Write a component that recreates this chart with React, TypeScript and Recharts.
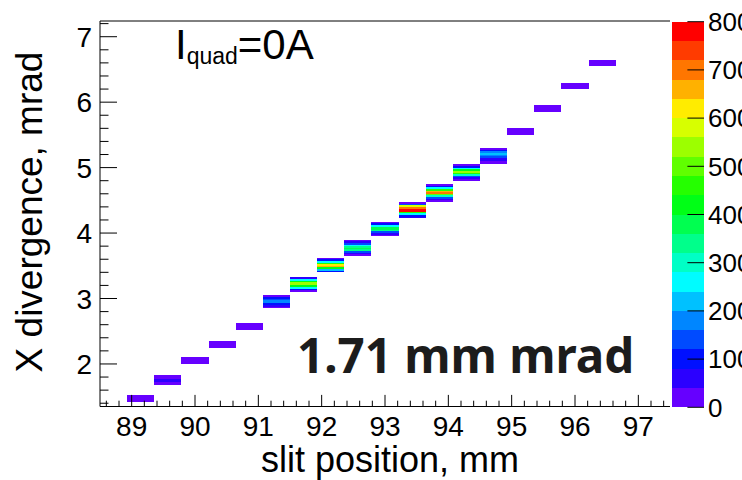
import {
  ComposedChart,
  BarChart,
  Bar,
  XAxis,
  YAxis,
  ReferenceArea,
  ReferenceLine,
} from "recharts";

// slit positions: centres of the 18 filled x bins (bin width 3/7 mm)
const slitPos = [
  89.143, 89.571, 90.0, 90.429, 90.857, 91.286, 91.714, 92.143, 92.571,
  93.0, 93.429, 93.857, 94.286, 94.714, 95.143, 95.571, 96.0, 96.429,
];
const slitBin = 0.4286;

// lower edge of the first filled divergence bin in each column (mrad)
const divLow = [
  1.425, 1.675, 2.0, 2.25, 2.525, 2.85, 3.1, 3.4, 3.65, 3.95, 4.225, 4.475,
  4.8, 5.05, 5.5, 5.85, 6.2, 6.55,
];
const divBin = 0.025;

// counts per divergence bin, bottom to top
const counts: number[][] = [
  [15, 25, 25, 15],
  [20, 35, 60, 55, 35, 20],
  [15, 30, 30, 15],
  [15, 30, 30, 15],
  [15, 30, 30, 15],
  [30, 70, 110, 180, 190, 120, 90, 35],
  [30, 110, 260, 430, 540, 530, 410, 240, 70],
  [80, 200, 430, 660, 610, 440, 260, 110, 30],
  [25, 40, 130, 330, 380, 350, 260, 120, 70, 30],
  [30, 50, 150, 350, 380, 360, 250, 80, 35],
  [40, 110, 270, 440, 770, 790, 690, 590, 150, 35],
  [25, 40, 120, 280, 480, 690, 640, 440, 250, 80, 35],
  [25, 50, 130, 280, 440, 540, 430, 270, 110, 35],
  [20, 30, 40, 70, 120, 190, 200, 180, 100, 30],
  [15, 30, 30, 15],
  [15, 30, 30, 15],
  [15, 30, 30, 15],
  [15, 30, 30, 15],
];

const xMajor = [89, 90, 91, 92, 93, 94, 95, 96, 97];
const yMajor = [2, 3, 4, 5, 6, 7];
const zTicks = [0, 100, 200, 300, 400, 500, 600, 700, 800];
const zStep = 40;

// colour contours, 0 -> 800 in steps of 40
const palette = [
  "#6600ff", "#2b00ff", "#0010ff", "#004bff", "#0086ff",
  "#00c1ff", "#00fcff", "#00ffc6", "#00ff8b", "#00ff50",
  "#00ff16", "#25ff00", "#60ff00", "#9cff00", "#d7ff00",
  "#ffec00", "#ffb100", "#ff7600", "#ff3b00", "#ff0000",
];

const X_DOMAIN: [number, number] = [88.5, 97.5];
const Y_DOMAIN: [number, number] = [1.35, 7.24];
const FONT = "'Liberation Sans', Arial, Helvetica, sans-serif";

const minorTicks = (lo: number, hi: number) => {
  const out: number[] = [];
  for (let v = Math.ceil(lo * 5) / 5; v <= hi + 1e-9; v += 0.2) {
    out.push(Math.round(v * 10) / 10);
  }
  return out;
};
const xTicks = minorTicks(X_DOMAIN[0], X_DOMAIN[1]);
const yTicks = minorTicks(Y_DOMAIN[0], Y_DOMAIN[1]);

const isMajor = (v: number, majors: number[]) =>
  majors.some((m) => Math.abs(m - v) < 1e-6);

const colourFor = (c: number) =>
  palette[Math.min(palette.length - 1, Math.floor(c / zStep))];

function XTick({ x, y, payload }: any) {
  const major = isMajor(payload.value, xMajor);
  return (
    <g>
      <line x1={x} x2={x} y1={y} y2={y - (major ? 11.6 : 5.8)} stroke="#000" />
      {major && (
        <text x={x} y={y + 29} textAnchor="middle" fontSize={28} fill="#000" fontFamily={FONT}>
          {Math.round(payload.value)}
        </text>
      )}
    </g>
  );
}

function YTick({ x, y, payload }: any) {
  const major = isMajor(payload.value, yMajor);
  return (
    <g>
      <line x1={x} x2={x + (major ? 17 : 8.5)} y1={y} y2={y} stroke="#000" />
      {major && (
        <text x={x - 8} y={y} dy="0.36em" textAnchor="end" fontSize={28} fill="#000" fontFamily={FONT}>
          {Math.round(payload.value)}
        </text>
      )}
    </g>
  );
}

function ZTick({ x, y, payload }: any) {
  return (
    <g>
      <line x1={x - 16.6} x2={x} y1={y} y2={y} stroke="#000" />
      <text x={x + 4} y={y} dy="0.36em" textAnchor="start" fontSize={26} fill="#000" fontFamily={FONT}>
        {payload.value}
      </text>
    </g>
  );
}

const cellShape = (p: any) => (
  <rect x={p.x} y={p.y} width={p.width} height={p.height} fill={p.fill} shapeRendering="crispEdges" />
);

const paletteRow = [
  Object.fromEntries([["name", "z"], ...palette.map((_, i) => [`b${i}`, zStep])]),
];

export default function App() {
  const cells = counts.flatMap((col, i) =>
    col.map((c, j) => {
      const y1 = divLow[i] + j * divBin;
      return (
        <ReferenceArea
          key={`${i}-${j}`}
          x1={slitPos[i] - slitBin / 2}
          x2={slitPos[i] + slitBin / 2}
          y1={y1}
          y2={y1 + divBin}
          fill={colourFor(c)}
          fillOpacity={1}
          stroke="none"
          shape={cellShape}
        />
      );
    })
  );

  return (
    <div
      style={{
        position: "absolute",
        left: 0,
        top: 0,
        width: 742,
        height: 480,
        overflow: "hidden",
        background: "#fff",
        fontFamily: FONT,
      }}
    >
      <ComposedChart
        width={742}
        height={480}
        margin={{ top: 21, right: 72, bottom: 0, left: 0 }}
      >
        <XAxis
          type="number"
          dataKey="x"
          domain={X_DOMAIN}
          ticks={xTicks}
          interval={0}
          tickSize={0}
          tickMargin={0}
          tickLine={false}
          tick={<XTick />}
          axisLine={{ stroke: "#000" }}
          height={73.5}
          allowDataOverflow
        />
        <YAxis
          type="number"
          domain={Y_DOMAIN}
          ticks={yTicks}
          interval={0}
          tickSize={0}
          tickMargin={0}
          tickLine={false}
          tick={<YTick />}
          axisLine={{ stroke: "#000" }}
          width={100}
          allowDataOverflow
        />
        {cells}
        <ReferenceLine y={Y_DOMAIN[1]} stroke="#000" ifOverflow="visible" />
        <text x={390} y={472} textAnchor="middle" fontSize={36} fontFamily={FONT} fill="#000">
          slit position, mm
        </text>
        <text
          transform="translate(42,212) rotate(-90)"
          textAnchor="middle"
          fontSize={37}
          fontFamily={FONT}
          fill="#000"
        >
          X divergence, mrad
        </text>
        <text x={175} y={59} fontSize={42} fontFamily={FONT} fill="#000">
          I
          <tspan fontSize={23} dy={4.5}>quad</tspan>
          <tspan fontSize={42} dy={-4.5}>=0A</tspan>
        </text>
        <text
          x={297}
          y={373}
          fontSize={47.5}
          fontWeight={700}
          fontFamily="'Noto Sans', 'Open Sans', sans-serif"
          fill="#1c1c1c"
        >
          1.71 mm mrad
        </text>
      </ComposedChart>

      <BarChart
        width={70}
        height={480}
        data={paletteRow}
        margin={{ top: 21.7, right: 0, bottom: 72.7, left: 0 }}
        barCategoryGap={0}
        barGap={0}
        style={{ position: "absolute", left: 672, top: 0 }}
      >
        <XAxis dataKey="name" hide />
        <YAxis
          orientation="right"
          type="number"
          domain={[0, 800]}
          ticks={zTicks}
          interval={0}
          tickSize={0}
          tickMargin={0}
          tickLine={false}
          axisLine={false}
          tick={<ZTick />}
          width={38}
        />
        {palette.map((c, i) => (
          <Bar
            key={c}
            dataKey={`b${i}`}
            stackId="z"
            fill={c}
            isAnimationActive={false}
            shape={cellShape}
          />
        ))}
      </BarChart>
    </div>
  );
}
